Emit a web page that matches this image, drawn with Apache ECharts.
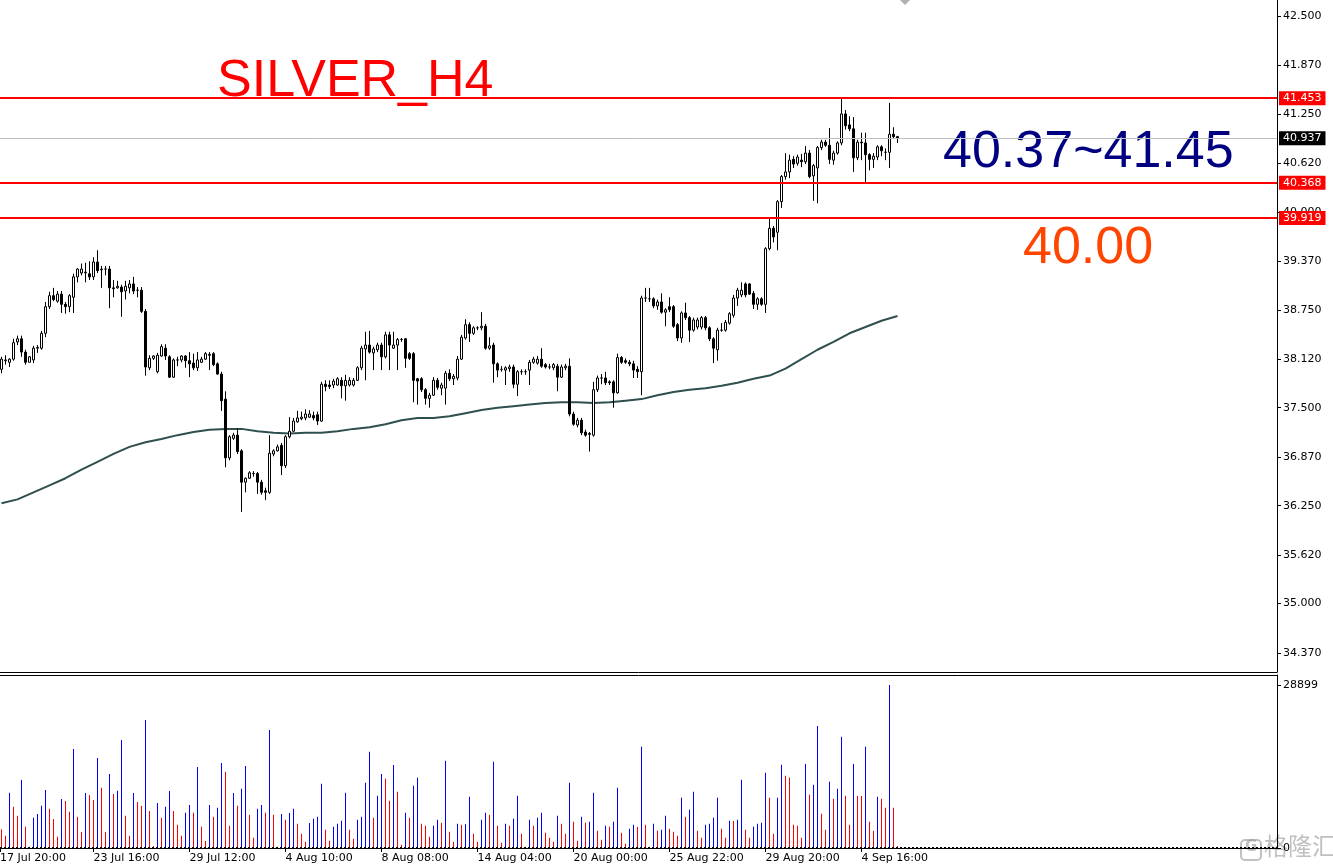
<!DOCTYPE html>
<html><head><meta charset="utf-8">
<script src="https://cdn.jsdelivr.net/npm/echarts@6/dist/echarts.min.js"></script>
<style>html,body{margin:0;padding:0;background:#fff;overflow:hidden}#c{width:1333px;height:867px}</style>
</head><body><div id="c"></div>
<script>
// H4 candles, one per bar: [open, close, low, high]
const candles = [
[37.99,38.12,37.94,38.15],[38.10,38.11,38.05,38.17],[38.08,38.12,38.02,38.13],[38.12,38.33,38.10,38.38],[38.34,38.38,38.30,38.42],
[38.38,38.21,38.15,38.42],[38.21,38.08,38.05,38.24],[38.08,38.15,38.08,38.16],[38.11,38.26,38.07,38.29],[38.26,38.27,38.20,38.30],
[38.26,38.45,38.24,38.48],[38.45,38.79,38.40,38.85],[38.79,38.93,38.76,38.98],[38.93,38.88,38.86,39.03],[38.86,38.95,38.84,38.99],
[38.95,38.82,38.71,38.99],[38.82,38.79,38.70,38.85],[38.79,38.93,38.72,38.95],[38.91,39.17,38.71,39.21],[39.17,39.27,39.10,39.28],
[39.22,39.27,39.19,39.34],[39.22,39.23,39.10,39.35],[39.21,39.17,39.13,39.37],[39.17,39.36,39.13,39.42],[39.36,39.25,39.22,39.51],
[39.26,39.27,39.03,39.31],[39.27,39.27,39.19,39.31],[39.27,39.03,38.77,39.31],[39.03,39.02,38.91,39.13],[39.03,39.05,39.02,39.12],
[39.04,38.98,38.66,39.07],[38.99,39.05,38.88,39.12],[39.03,39.08,38.96,39.13],[39.08,38.99,38.95,39.17],[39.00,39.00,38.91,39.04],
[39.00,38.73,38.71,39.04],[38.73,38.02,37.91,38.76],[38.01,38.13,37.98,38.17],[38.13,38.16,38.11,38.17],[37.96,38.17,37.94,38.20],
[38.16,38.28,38.15,38.31],[38.26,38.16,38.11,38.31],[38.15,37.89,37.88,38.17],[37.89,38.11,37.88,38.13],[38.11,38.11,38.03,38.15],
[38.11,38.16,38.08,38.17],[38.16,38.10,38.01,38.17],[38.10,38.06,37.89,38.21],[38.07,38.01,37.98,38.19],[38.01,38.11,37.97,38.21],
[38.08,38.12,38.07,38.15],[38.12,38.19,38.11,38.21],[38.18,38.17,37.98,38.21],[38.19,38.05,38.03,38.21],[38.06,37.93,37.92,38.08],
[37.93,37.59,37.46,37.96],[37.61,36.86,36.74,37.71],[36.86,37.13,36.83,37.15],[37.11,37.15,37.09,37.18],[37.15,36.94,36.91,37.24],
[36.95,36.55,36.17,36.97],[36.55,36.60,36.42,36.61],[36.60,36.67,36.59,36.69],[36.66,36.66,36.62,36.69],[36.66,36.55,36.40,36.68],
[36.55,36.42,36.39,36.58],[36.44,36.42,36.32,36.48],[36.42,36.92,36.40,37.15],[36.91,36.95,36.88,36.97],[36.95,37.00,36.94,37.03],
[37.02,36.76,36.64,37.05],[36.76,37.13,36.73,37.15],[37.13,37.20,37.11,37.38],[37.20,37.33,37.19,37.37],[37.32,37.37,37.31,37.46],
[37.36,37.38,37.34,37.45],[37.37,37.42,37.34,37.48],[37.38,37.42,37.37,37.47],[37.40,37.37,37.34,37.45],[37.41,37.33,37.28,37.45],
[37.33,37.80,37.32,37.83],[37.80,37.77,37.71,37.85],[37.79,37.77,37.74,37.85],[37.79,37.84,37.75,37.87],[37.79,37.87,37.78,37.89],
[37.85,37.78,37.62,37.89],[37.78,37.85,37.59,37.92],[37.79,37.85,37.77,37.89],[37.79,37.85,37.77,37.88],[37.85,38.01,37.84,38.03],
[38.01,38.26,37.98,38.29],[38.25,38.30,37.85,38.47],[38.30,38.21,38.19,38.48],[38.20,38.25,37.98,38.28],[38.24,38.30,38.21,38.33],
[38.30,38.15,37.98,38.33],[38.15,38.43,38.13,38.47],[38.43,38.30,37.98,38.47],[38.26,38.30,38.25,38.47],[38.30,38.37,37.98,38.39],
[38.37,38.37,38.34,38.39],[38.38,38.13,38.01,38.39],[38.19,38.13,38.11,38.21],[38.19,37.85,37.57,38.21],[37.87,37.84,37.54,37.88],
[37.87,37.73,37.70,37.89],[37.73,37.62,37.54,37.75],[37.62,37.66,37.50,37.69],[37.66,37.85,37.65,37.89],[37.85,37.76,37.73,37.88],
[37.75,37.79,37.66,37.82],[37.75,37.94,37.54,37.97],[37.94,37.87,37.84,37.99],[37.87,37.90,37.79,37.93],[37.88,38.12,37.85,38.16],
[38.12,38.40,38.11,38.43],[38.39,38.56,38.37,38.63],[38.56,38.45,38.34,38.59],[38.45,38.52,38.43,38.54],[38.52,38.52,38.49,38.54],
[38.52,38.54,38.49,38.72],[38.54,38.26,38.24,38.57],[38.26,38.29,38.24,38.40],[38.30,38.06,37.82,38.33],[38.06,37.98,37.89,38.08],
[37.99,37.99,37.96,38.03],[37.98,38.01,37.79,38.03],[38.00,38.02,37.96,38.05],[38.02,37.80,37.75,38.05],[37.80,37.96,37.65,37.98],
[37.96,37.96,37.92,37.99],[37.96,37.96,37.92,37.99],[37.98,38.08,37.79,38.11],[38.08,38.12,38.06,38.15],[38.07,38.12,38.05,38.16],
[38.12,38.03,38.01,38.26],[38.05,38.02,38.00,38.07],[38.02,38.02,37.99,38.06],[38.01,38.05,37.98,38.07],[38.03,37.89,37.71,38.06],
[37.89,38.02,37.88,38.05],[38.01,38.03,37.98,38.06],[38.03,37.42,37.39,38.13],[37.42,37.29,37.27,37.45],[37.28,37.34,37.25,37.37],
[37.34,37.18,37.15,37.37],[37.19,37.15,37.13,37.22],[37.17,37.16,36.94,37.19],[37.15,37.73,37.13,37.83],[37.73,37.88,37.70,37.91],
[37.88,37.88,37.80,37.93],[37.88,37.82,37.79,37.96],[37.83,37.82,37.79,37.85],[37.83,37.69,37.50,37.85],[37.69,38.14,37.68,38.19],
[38.14,38.08,38.06,38.16],[38.10,38.08,38.06,38.13],[38.08,38.06,38.03,38.11],[38.06,37.98,37.88,38.10],[37.99,37.96,37.88,38.03],
[37.96,38.90,37.66,38.93],[38.90,38.90,38.85,39.03],[38.89,38.89,38.85,39.03],[38.89,38.80,38.77,38.91],[38.80,38.85,38.75,38.88],
[38.85,38.72,38.70,38.96],[38.72,38.75,38.54,38.77],[38.79,38.75,38.72,38.91],[38.79,38.54,38.52,38.81],[38.56,38.39,38.35,38.58],
[38.39,38.71,38.33,38.73],[38.71,38.65,38.62,38.84],[38.65,38.49,38.34,38.67],[38.49,38.62,38.47,38.65],[38.53,38.62,38.50,38.65],
[38.53,38.65,38.50,38.67],[38.65,38.52,38.49,38.67],[38.52,38.38,38.35,38.54],[38.38,38.26,38.07,38.40],[38.24,38.49,38.10,38.52],
[38.49,38.49,38.47,38.58],[38.49,38.59,38.47,38.62],[38.58,38.70,38.56,38.72],[38.68,38.90,38.65,38.94],[38.90,39.00,38.80,39.03],
[38.94,39.00,38.91,39.10],[39.08,38.94,38.91,39.10],[39.08,38.95,38.94,39.09],[38.96,38.82,38.76,38.99],[38.82,38.89,38.75,38.91],
[38.89,38.82,38.80,38.91],[38.82,39.53,38.71,39.55],[39.53,39.79,39.51,39.93],[39.79,39.68,39.61,39.82],[39.74,40.13,39.51,40.15],
[40.13,40.45,40.05,40.47],[40.45,40.51,40.41,40.75],[40.51,40.66,40.43,40.73],[40.67,40.61,40.56,40.71],[40.62,40.70,40.59,40.73],
[40.66,40.64,40.57,40.74],[40.64,40.75,40.61,40.84],[40.75,40.45,40.43,40.79],[40.46,40.59,40.14,40.61],[40.56,40.82,40.11,40.84],
[40.82,40.89,40.79,40.92],[40.89,40.85,40.83,40.92],[40.85,40.67,40.61,41.07],[40.66,40.75,40.60,40.78],[40.75,40.88,40.73,40.90],
[40.88,41.25,40.85,41.44],[41.25,41.10,41.05,41.30],[41.11,41.06,41.03,41.22],[41.06,40.69,40.51,41.21],[40.69,40.89,40.66,40.92],
[40.89,40.88,40.66,41.01],[40.88,40.73,40.38,41.01],[40.73,40.67,40.53,40.75],[40.67,40.71,40.56,40.75],[40.70,40.83,40.66,40.85],
[40.83,40.78,40.71,40.85],[40.76,40.76,40.66,40.81],[40.76,40.99,40.56,41.39],[40.99,40.96,40.93,41.08],[40.96,40.94,40.88,40.97]
];

// tick volume per bar
const volumes = [
3310,2187,9811,7328,5733,12056,3782,236,5378,6028,
7506,10283,6974,5142,2009,8688,8333,6442,17553,5555,
2837,9752,9397,8510,15957,10697,2837,13120,9574,10165,
19148,5733,2187,9752,8156,7506,22694,6560,355,7979,
5378,7328,10106,6560,4137,2187,6265,7624,6265,14361,
3782,1241,7624,5555,7151,15071,13534,3960,9752,7506,
10520,14539,5910,1832,6974,7624,6265,20921,5910,236,
6028,5024,6206,6974,4314,2541,1123,4433,5201,5555,
11406,3251,1300,3782,4314,4846,9811,3251,1655,5024,
5555,11584,17080,5378,9279,13120,12293,8392,14716,9988,
591,6265,5378,11052,12470,4314,3960,2009,3960,5024,
4492,15484,2896,1123,4314,4137,4196,9101,2541,1123,
5024,6265,5910,15307,3960,946,4314,3960,5201,9279,
2541,236,5024,3960,5378,6265,2719,1832,1123,5733,
4314,2541,11584,4669,1300,5555,4492,4669,9811,3073,
1478,3960,3782,4669,10697,2719,768,3428,4137,3782,
17966,4137,236,4314,3073,3251,5733,3428,2896,2187,
8924,5555,6797,9988,3073,1832,4137,4314,5378,8924,
3428,1832,4846,4787,5024,12116,3251,1832,3782,4314,
4492,13357,8924,2541,8924,14775,12825,12500,4137,3960,
1832,14893,9456,11229,21631,6087,3251,11761,8747,10520,
19739,9279,4137,14893,9279,9200,17966,4669,3073,9101,
8747,7151,28899,7151,355
];

// moving average read every 4 bars (bar 0, 4, 8, ... 224)
const maStep = 4;
const maValues = [
36.28,36.33,36.42,36.51,36.60,36.71,36.81,36.91,37.00,37.06,
37.10,37.15,37.19,37.22,37.23,37.23,37.20,37.18,37.17,37.18,
37.18,37.20,37.23,37.25,37.29,37.34,37.37,37.37,37.39,37.43,
37.47,37.50,37.52,37.54,37.56,37.57,37.57,37.56,37.57,37.59,
37.61,37.66,37.70,37.73,37.75,37.78,37.82,37.87,37.91,38.00,
38.12,38.24,38.34,38.45,38.53,38.61,38.67
];

const xTickBars = [-1, 23, 47, 71, 95, 119, 143, 167, 191, 215];
const xTickLabels = ['17 Jul 20:00','23 Jul 16:00','29 Jul 12:00','4 Aug 10:00','8 Aug 08:00','14 Aug 04:00','20 Aug 00:00','25 Aug 22:00','29 Aug 20:00','4 Sep 16:00'];
const priceTicks = [34.37, 35.00, 35.62, 36.25, 36.87, 37.50, 38.12, 38.75, 39.37, 40.00, 40.62, 41.25, 41.87, 42.50];
const levelLines = [41.453, 40.368, 39.919];
const lastPrice = 40.937;
const volMaxLabel = 28899;

const titleText = 'SILVER_H4';
const rangeText = '40.37~41.45';
const supportText = '40.00';

// ---- layout ----
const PLOT_W = 1277;
const X_MIN = -0.375, X_MAX = X_MIN + PLOT_W / 4;
const FONT = '"DejaVu Sans", sans-serif';
const xTickVals = xTickBars.map(v => Math.max(v, X_MIN));
function xLabel(v) {
  let best = 0, d = 1e9;
  xTickVals.forEach((t, i) => { if (Math.abs(t - v) < d) { d = Math.abs(t - v); best = i; } });
  return xTickLabels[best];
}

const chart = echarts.init(document.getElementById('c'), null, {renderer: 'canvas'});

const tagLabel = (bg, v) => ({
  show: true, position: 'end', distance: 2,
  formatter: v.toFixed(3),
  color: '#fff', backgroundColor: bg, fontFamily: FONT, fontSize: 11,
  padding: [1, 4, 1, 4], lineHeight: 12
});

const markData = levelLines.map(v => ({
  yAxis: v, lineStyle: {color: '#ff0000', width: 2, type: 'solid'}, label: tagLabel('#ff0000', v)
}));
markData.unshift({yAxis: lastPrice, lineStyle: {color: '#c0c0c0', width: 1, type: 'solid'}, label: tagLabel('#000000', lastPrice)});

const option = {
  animation: false,
  backgroundColor: '#ffffff',
  grid: [
    {left: 0, top: 0, width: PLOT_W, height: 672, outerBoundsMode: 'none', containLabel: false},
    {left: 0, top: 675, width: PLOT_W, height: 173, outerBoundsMode: 'none', containLabel: false}
  ],
  xAxis: [
    {gridIndex: 0, type: 'value', min: X_MIN, max: X_MAX, position: 'bottom',
     axisLine: {show: true, onZero: false, lineStyle: {color: '#000', width: 1}},
     axisTick: {show: false}, axisLabel: {show: false}, splitLine: {show: false}},
    {gridIndex: 1, type: 'value', min: X_MIN, max: X_MAX, position: 'bottom',
     axisLine: {show: true, onZero: false, lineStyle: {color: '#000', width: 1}},
     axisTick: {show: true, customValues: xTickVals, length: 4, lineStyle: {color: '#000'}},
     axisLabel: {show: true, customValues: xTickVals, formatter: xLabel, align: 'left',
                 color: '#000', fontFamily: FONT, fontSize: 11, margin: 5},
     splitLine: {show: false}},
    {gridIndex: 1, type: 'value', min: X_MIN, max: X_MAX, position: 'top',
     axisLine: {show: true, onZero: false, lineStyle: {color: '#000', width: 1}},
     axisTick: {show: false}, axisLabel: {show: false}, splitLine: {show: false}}
  ],
  yAxis: [
    {gridIndex: 0, type: 'value', position: 'right', min: 34.127, max: 42.704,
     axisLine: {show: true, onZero: false, lineStyle: {color: '#000', width: 1}},
     axisTick: {show: true, customValues: priceTicks, length: 4, lineStyle: {color: '#000'}},
     axisLabel: {show: true, customValues: priceTicks, formatter: v => v.toFixed(3),
                 color: '#000', fontFamily: FONT, fontSize: 11, margin: 6},
     splitLine: {show: false}},
    {gridIndex: 1, type: 'value', position: 'right', min: 0, max: volMaxLabel * 173 / 163,
     axisLine: {show: true, onZero: false, lineStyle: {color: '#000', width: 1}},
     axisTick: {show: true, customValues: [0, volMaxLabel], length: 4, lineStyle: {color: '#000'}},
     axisLabel: {show: true, customValues: [0, volMaxLabel], formatter: v => String(v),
                 color: '#000', fontFamily: FONT, fontSize: 11, margin: 6},
     splitLine: {show: false}}
  ],
  series: [
    {
      type: 'line', name: 'MA', xAxisIndex: 0, yAxisIndex: 0,
      data: maValues.map((v, i) => [i * maStep, v]),
      showSymbol: false, symbol: 'none', smooth: false,
      lineStyle: {color: '#2f4f4f', width: 2}, z: 2
    },
    {
      type: 'candlestick', name: 'SILVER', xAxisIndex: 0, yAxisIndex: 0,
      data: candles.map((c, i) => [i, c[0], c[1], c[2], c[3]]),
      encode: {x: 0, y: [1, 2, 3, 4]},
      barWidth: 2,
      itemStyle: {color: '#ffffff', color0: '#000000', borderColor: '#000000', borderColor0: '#000000',
                  borderColorDoji: '#000000', borderWidth: 1},
      z: 3,
      markLine: {silent: true, symbol: ['none', 'none'], animation: false, data: markData}
    },
    {
      type: 'bar', name: 'Volumes', xAxisIndex: 1, yAxisIndex: 1,
      barWidth: 1,
      data: volumes.map((v, i) => ({
        value: [i, v],
        itemStyle: {color: (i > 0 && v > volumes[i - 1]) ? '#0000ff' : '#ff0000'}
      })),
      markLine: {silent: true, symbol: ['none', 'none'], animation: false, label: {show: false},
                 data: [{yAxis: 0, lineStyle: {color: '#000', width: 2, type: [2, 2]}}]}
    }
  ],
  graphic: [
    {type: 'text', left: 217, top: 56, style: {text: titleText, fill: '#ff0000', font: '52px "Liberation Sans", Arial, sans-serif'}},
    {type: 'text', left: 943, top: 127, style: {text: rangeText, fill: '#000080', font: '52px "Liberation Sans", Arial, sans-serif'}},
    {type: 'text', left: 1023, top: 223, style: {text: supportText, fill: '#ff4500', font: '52px "Liberation Sans", Arial, sans-serif'}},
    {type: 'polygon', shape: {points: [[900, 0], [910, 0], [905, 5]]}, style: {fill: '#b0b0b0'}},
    {type: 'rect', shape: {x: 1241, y: 840, width: 20, height: 20, r: 4}, style: {fill: 'none', stroke: 'rgba(150,150,150,0.6)', lineWidth: 2}},
    {type: 'text', left: 1245, top: 840, style: {text: 'G', fill: 'rgba(150,150,150,0.6)', font: 'bold 15px "DejaVu Sans", sans-serif'}},
    {type: 'text', left: 1264, top: 834, style: {text: '格隆汇', fill: 'rgba(150,150,150,0.6)', font: '24px "Noto Sans CJK SC", sans-serif'}}
  ]
};
chart.setOption(option);
</script>
</body></html>
